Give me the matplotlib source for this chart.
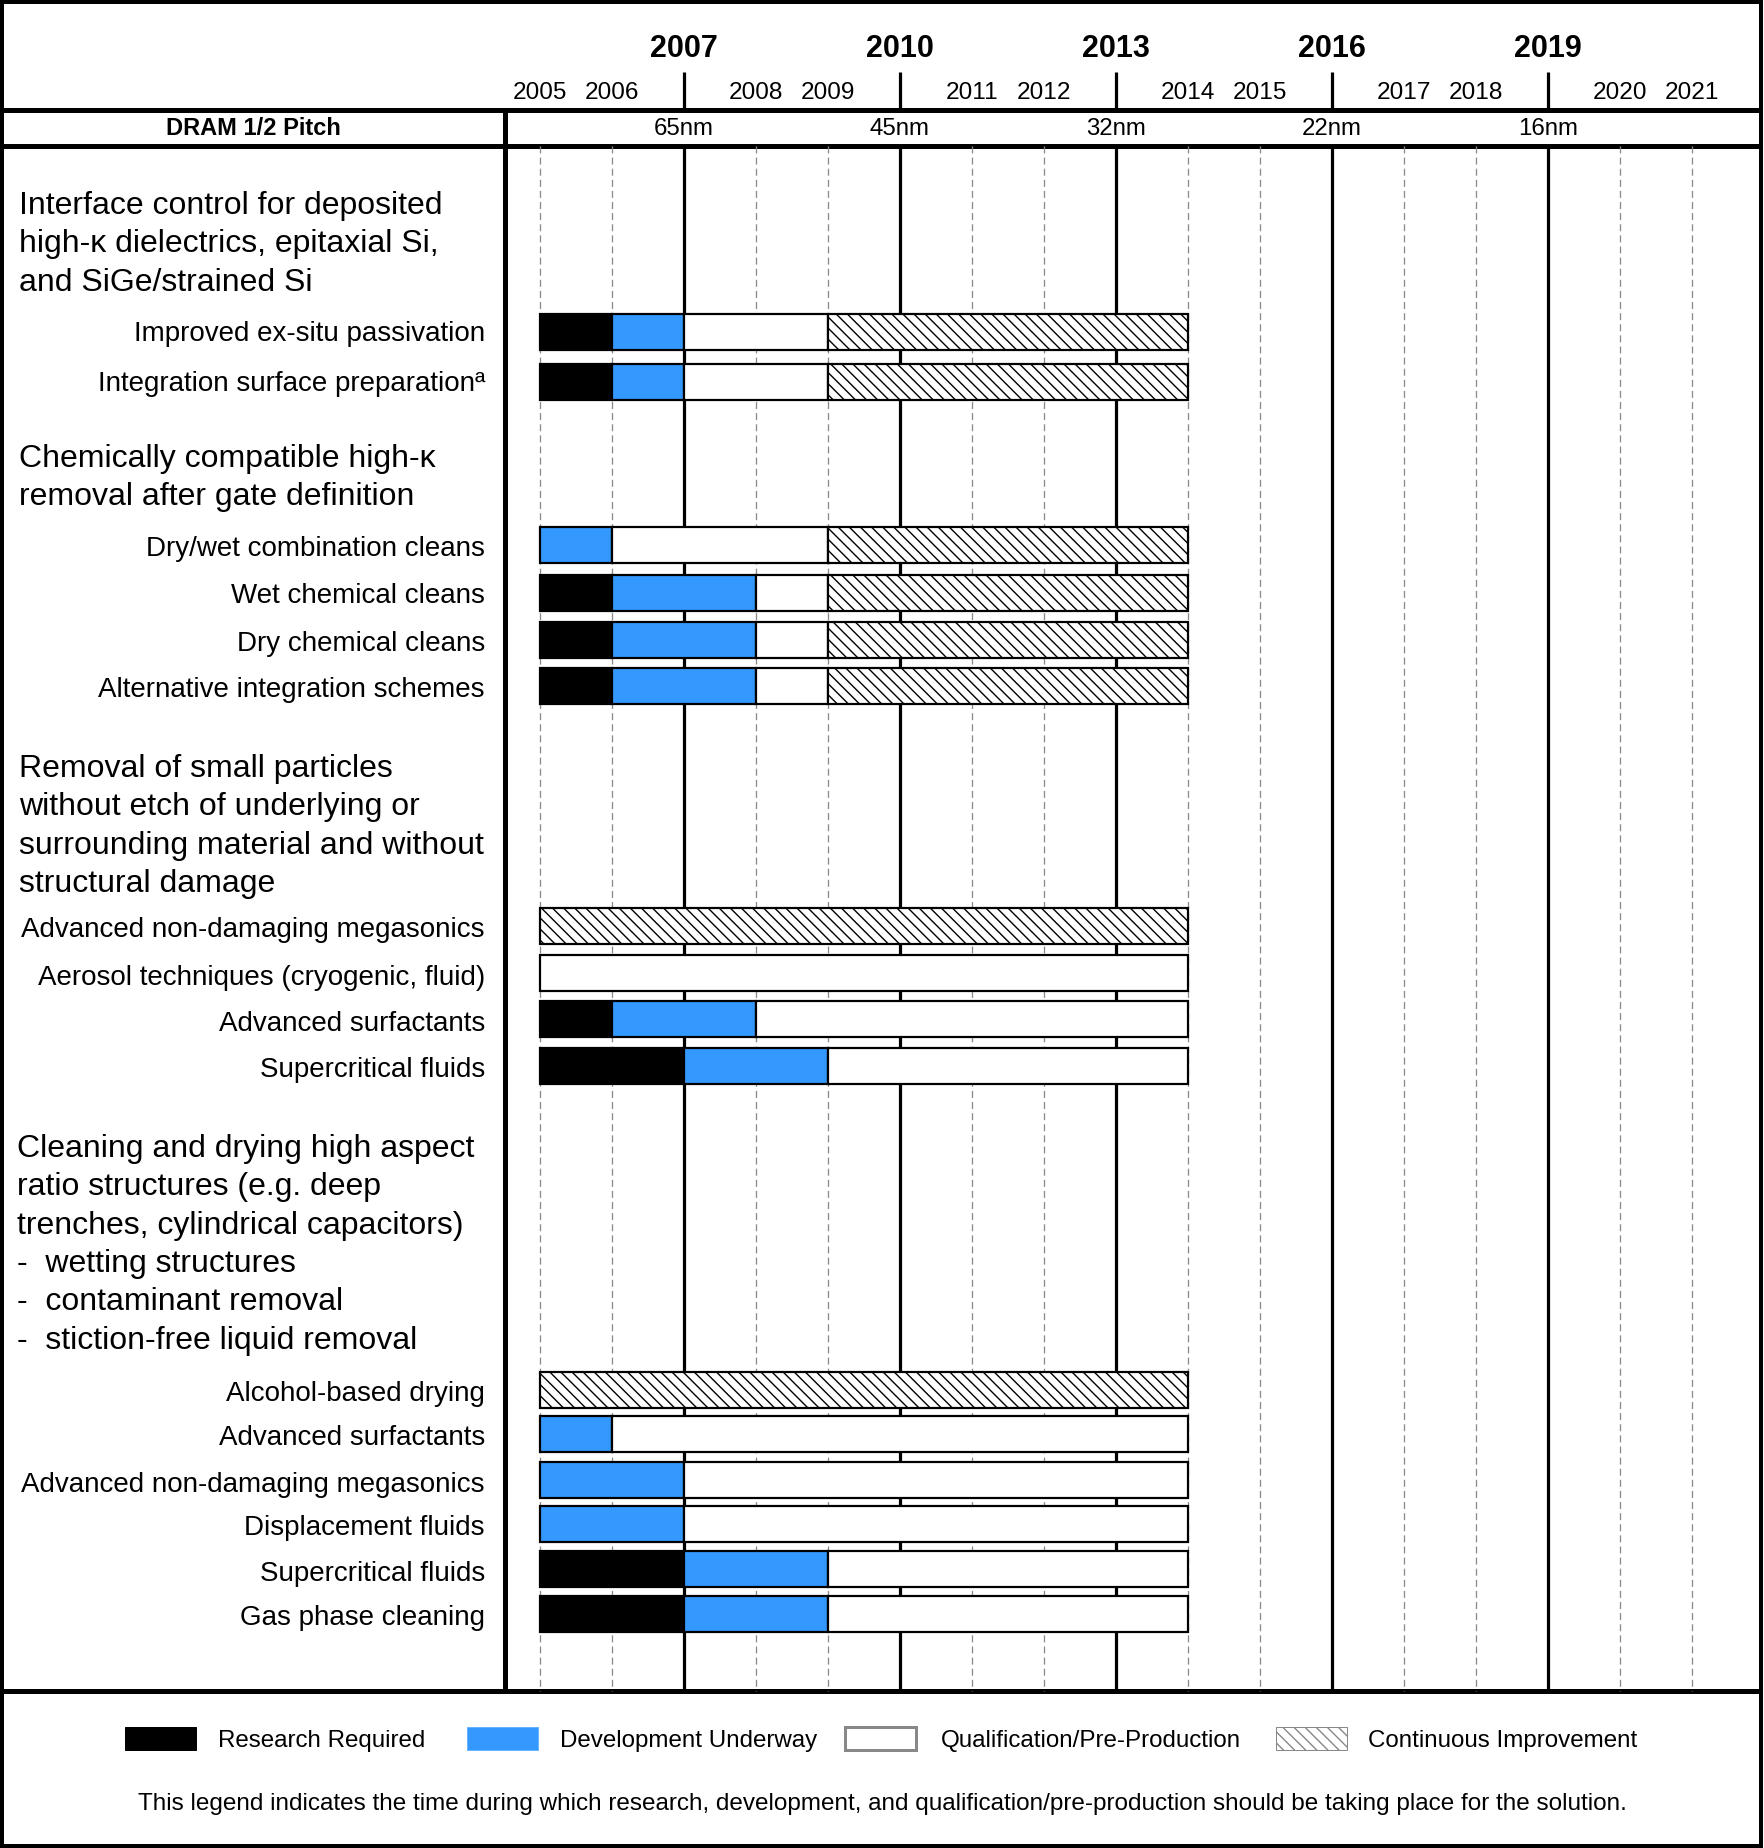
import matplotlib
matplotlib.use("Agg")
import matplotlib.pyplot as plt
from matplotlib.patches import Rectangle

W, H = 1765, 1848
DPI = 100
PX = 72 / DPI  # points per pixel

plt.rcParams["font.family"] = ["Liberation Sans", "DejaVu Sans"]
plt.rcParams["hatch.color"] = "black"
plt.rcParams["hatch.linewidth"] = 1.0
plt.rcParams["lines.scale_dashes"] = False

# ------------------------------------------------------------------
# Data
# ------------------------------------------------------------------
YEARS = list(range(2005, 2022))
NODE_YEARS = [2007, 2010, 2013, 2016, 2019]
NODE_LABELS = ["65nm", "45nm", "32nm", "22nm", "16nm"]

SECTION_TITLES = [
    ["Interface control for deposited",
     "high-\u03ba dielectrics, epitaxial Si,",
     "and SiGe/strained Si"],
    ["Chemically compatible high-\u03ba",
     "removal after gate definition"],
    ["Removal of small particles",
     "without etch of underlying or",
     "surrounding material and without",
     "structural damage"],
    ["Cleaning and drying high aspect",
     "ratio structures (e.g. deep",
     "trenches, cylindrical capacitors)",
     "-  wetting structures",
     "-  contaminant removal",
     "-  stiction-free liquid removal"],
]

ITEM_LABELS = [
    "Improved ex-situ passivation",
    "Integration surface preparation\u00aa",
    "Dry/wet combination cleans",
    "Wet chemical cleans",
    "Dry chemical cleans",
    "Alternative integration schemes",
    "Advanced non-damaging megasonics",
    "Aerosol techniques (cryogenic, fluid)",
    "Advanced surfactants",
    "Supercritical fluids",
    "Alcohol-based drying",
    "Advanced surfactants",
    "Advanced non-damaging megasonics",
    "Displacement fluids",
    "Supercritical fluids",
    "Gas phase cleaning",
]

# (start year, end year) of each phase per item, None = phase not shown
RESEARCH = [(2005, 2006), (2005, 2006), None, (2005, 2006), (2005, 2006), (2005, 2006),
            None, None, (2005, 2006), (2005, 2007),
            None, None, None, None, (2005, 2007), (2005, 2007)]
DEVELOP = [(2006, 2007), (2006, 2007), (2005, 2006), (2006, 2008), (2006, 2008), (2006, 2008),
           None, None, (2006, 2008), (2007, 2009),
           None, (2005, 2006), (2005, 2007), (2005, 2007), (2007, 2009), (2007, 2009)]
QUALIFY = [(2007, 2009), (2007, 2009), (2006, 2009), (2008, 2009), (2008, 2009), (2008, 2009),
           None, (2005, 2014), (2008, 2014), (2009, 2014),
           None, (2006, 2014), (2007, 2014), (2007, 2014), (2009, 2014), (2009, 2014)]
IMPROVE = [(2009, 2014), (2009, 2014), (2009, 2014), (2009, 2014), (2009, 2014), (2009, 2014),
           (2005, 2014), None, None, None,
           (2005, 2014), None, None, None, None, None]

LEGEND_LABELS = ["Research Required", "Development Underway",
                 "Qualification/Pre-Production", "Continuous Improvement"]
FOOTNOTE = ("This legend indicates the time during which research, development, and "
            "qualification/pre-production should be taking place for the solution.")

# ------------------------------------------------------------------
# Layout (pixels, measured from the top-left corner)
# ------------------------------------------------------------------
TITLE_BASE = [214, 467, 777, 1157]
TITLE_X = [19, 19, 19, 17]
LINE_STEP = 38.3
ROW_Y = [332, 382, 545, 593, 640, 686, 926, 973, 1019, 1066,
         1390, 1434, 1480, 1524, 1569, 1614]
LABEL_DY = [9, 9, 11, 10, 11, 11, 11, 12, 12, 11, 11, 11, 12, 11, 12, 11]
BAR_H = 36
LABEL_X = 485
DIV_X = 505
HEAD_Y1, HEAD_Y2, BODY_BOTTOM = 110, 146, 1691

BLUE = "#3399ff"
STYLES = [
    dict(facecolor="black"),
    dict(facecolor=BLUE),
    dict(facecolor="white"),
    dict(facecolor="white", hatch="\\\\\\"),
]

fig = plt.figure(figsize=(W / DPI, H / DPI), dpi=DPI)
fig.patch.set_facecolor("white")

# frame / text axes in pixel coordinates
ax = fig.add_axes([0, 0, 1, 1])
ax.set_xlim(0, W)
ax.set_ylim(H, 0)
ax.axis("off")

# timeline axes: x in years, y in pixels
gx = fig.add_axes([504 / W, 0, 1260 / W, 1])
gx.set_xlim(2004.5, 2022.0)
gx.set_ylim(H, 0)
gx.axis("off")

# year grid
for yr in YEARS:
    if yr in NODE_YEARS:
        gx.vlines(yr, HEAD_Y2, BODY_BOTTOM, color="black", lw=3.2 * PX, zorder=1)
        gx.vlines(yr, 72, HEAD_Y1, color="black", lw=3.2 * PX, zorder=1)
        gx.text(yr, 57, str(yr), ha="center", va="baseline", fontsize=22,
                fontweight="bold")
    else:
        gx.vlines(yr, HEAD_Y2, BODY_BOTTOM, color="#8a8a8a", lw=1.3 * PX,
                  linestyles=[(0, (5.0, 3.0))], zorder=1)
        gx.text(yr, 99, str(yr), ha="center", va="baseline", fontsize=17.6)

for yr, lab in zip(NODE_YEARS, NODE_LABELS):
    gx.text(yr, 135, lab, ha="center", va="baseline", fontsize=17.3)

# bars
for spans, style in zip([RESEARCH, DEVELOP, QUALIFY, IMPROVE], STYLES):
    for y, span in zip(ROW_Y, spans):
        if span is None:
            continue
        gx.barh(y, span[1] - span[0], left=span[0], height=BAR_H,
                edgecolor="black", linewidth=2.2 * PX, zorder=3, **style)

# frame lines
ax.add_patch(Rectangle((2, 2), 1759, 1844, fill=False, ec="black", lw=4 * PX, zorder=5))
ax.hlines([HEAD_Y1, HEAD_Y2, BODY_BOTTOM], 0, 1762, color="black", lw=5 * PX, zorder=5)
ax.vlines(DIV_X, HEAD_Y1, BODY_BOTTOM, color="black", lw=5 * PX, zorder=5)

ax.text(253, 135, "DRAM 1/2 Pitch", ha="center", va="baseline", fontsize=17,
        fontweight="bold")

# left column
for lines, base, x0 in zip(SECTION_TITLES, TITLE_BASE, TITLE_X):
    for i, line in enumerate(lines):
        ax.text(x0, base + i * LINE_STEP, line, ha="left", va="baseline", fontsize=23)

for y, dy, lab in zip(ROW_Y, LABEL_DY, ITEM_LABELS):
    ax.text(LABEL_X, y + dy, lab, ha="right", va="baseline", fontsize=20)

# legend
LEG_BOX_X = [125, 467, 845, 1276]
LEG_TEXT_X = [218, 560, 941, 1368]
leg_edges = ["black", "#66b3ff", "#888888", "#888888"]
leg_lw = [1, 1, 3, 1]
for bx, tx, style, ec, lw, lab in zip(LEG_BOX_X, LEG_TEXT_X, STYLES, leg_edges, leg_lw, LEGEND_LABELS):
    ax.add_patch(Rectangle((bx, 1727), 71, 23, edgecolor=ec, linewidth=lw * PX, **style))
    ax.text(tx, 1747, lab, ha="left", va="baseline", fontsize=17.4)

ax.text(882, 1810, FOOTNOTE, ha="center", va="baseline", fontsize=17.5)

fig.savefig("out.png", dpi=DPI)
